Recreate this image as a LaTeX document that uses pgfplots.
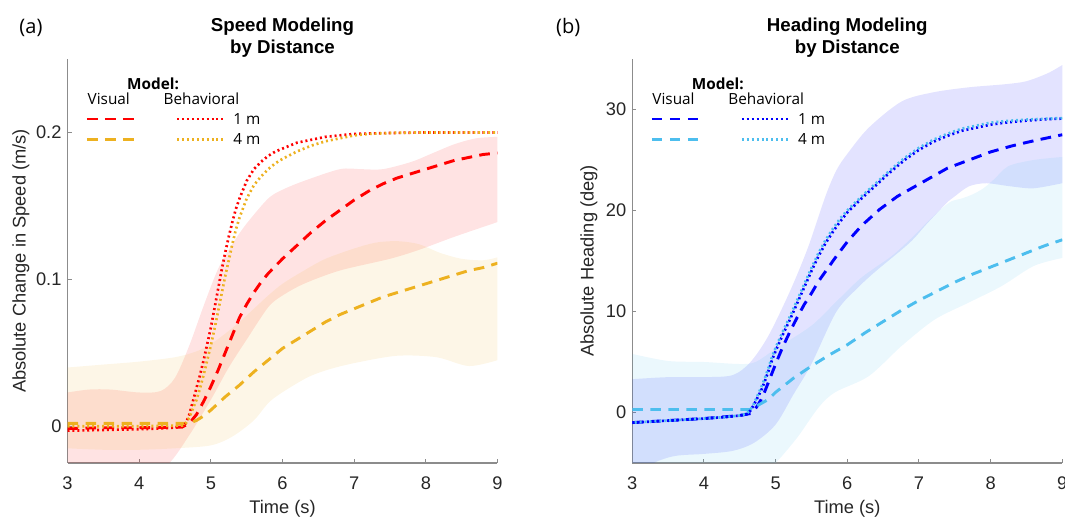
\documentclass[border=0pt]{standalone}
\usepackage{fontspec}
\setmainfont{Liberation Sans}
\newfontfamily\legfont{Open Sans}
\usepackage{pgfplots}
\pgfplotsset{compat=1.18}
\usepgfplotslibrary{fillbetween}

\definecolor{mred}{HTML}{FF0000}
\definecolor{morange}{HTML}{EDB120}
\definecolor{mblue}{HTML}{0000FF}
\definecolor{mcyan}{HTML}{4DBEEE}
\definecolor{axisgray}{HTML}{8C8C8C}
\definecolor{labelgray}{HTML}{262626}

\tikzset{
  vis/.style={line width=2.2pt, dash pattern=on 8pt off 5.5pt},
  beh/.style={line width=2pt, dash pattern=on 1.5pt off 2.2pt},
  band/.style={draw=none, fill opacity=0.11},
  edge/.style={draw=none, smooth},
}

\pgfplotsset{
  panel/.style={
    scale only axis, width=322.5pt, height=303pt,
    xmin=3, xmax=9, xtick={3,4,5,6,7,8,9},
    axis x line*=bottom, axis y line*=left,
    axis line style={draw=axisgray, line width=0.9pt},
    tick style={draw=axisgray, line width=0.8pt},
    tick align=inside, major tick length=3pt,
    clip mode=individual,
    /pgf/number format/assume math mode=true,
    tick label style={font=\fontsize{13.7}{16}\selectfont, text=labelgray},
    xticklabel style={yshift=-7pt},
    yticklabel style={xshift=-1pt},
    title style={font=\bfseries\fontsize{14}{16.5}\selectfont, text=black,
      align=center, at={(axis description cs:0.5,1)}, anchor=center, yshift=9.75pt},
    every axis x label/.style={at={(axis description cs:0.5,-0.1139)}, anchor=center,
      font=\fontsize{13.7}{16}\selectfont, text=labelgray},
  },
}

% legend block: Visual (dashed) and Behavioral (dotted) for 1 m and 4 m
\newcommand{\modellegend}[2]{%
  \node[font=\legfont\bfseries\fontsize{11.5}{13}\selectfont, inner sep=0pt] at (axis description cs:0.199,0.938) {Model:};
  \node[font=\legfont\fontsize{11.5}{13}\selectfont, inner sep=0pt] at (axis description cs:0.096,0.901) {Visual};
  \node[font=\legfont\fontsize{11.5}{13}\selectfont, inner sep=0pt] at (axis description cs:0.3116,0.901) {Behavioral};
  \draw[#1, vis] (axis description cs:0.0453,0.8515) -- (axis description cs:0.1663,0.8515);
  \draw[#1, beh] (axis description cs:0.2547,0.8515) -- (axis description cs:0.3686,0.8515);
  \node[font=\legfont\fontsize{11.5}{13}\selectfont, inner sep=0pt, anchor=west] at (axis description cs:0.3849,0.8515) {1 m};
  \draw[#2, vis] (axis description cs:0.0453,0.8012) -- (axis description cs:0.1663,0.8012);
  \draw[#2, beh] (axis description cs:0.2547,0.8012) -- (axis description cs:0.3686,0.8012);
  \node[font=\legfont\fontsize{11.5}{13}\selectfont, inner sep=0pt, anchor=west] at (axis description cs:0.3849,0.8012) {4 m};
}

\begin{document}
\begin{tikzpicture}

% ---------------- (a) speed ----------------
\begin{axis}[panel, at={(50.625pt,41.25pt)}, anchor=south west,
  ymin=-0.025, ymax=0.25, ytick={0,0.1,0.2},
  title={Speed Modeling\\by Distance},
  xlabel={Time (s)}, ylabel={Absolute Change in Speed (m/s)},
  every axis y label/.style={at={(axis description cs:-0.1082,0.5)}, rotate=90, anchor=center,
    font=\fontsize{13.7}{16}\selectfont, text=labelgray},
]
% 1 m band
\addplot[edge, name path=rU] table {
3.0 0.023
3.3 0.025
3.6 0.025
4.0 0.023
4.3 0.024
4.5 0.033
4.7 0.055
4.9 0.082
5.1 0.107
5.3 0.124
5.5 0.138
5.8 0.155
6.0 0.161
6.3 0.167
6.8 0.175
7.1 0.175
7.4 0.175
7.8 0.180
8.1 0.186
8.4 0.192
8.7 0.196
9.0 0.197
};
\addplot[edge, name path=rL] table {
3.0 -0.045
3.5 -0.042
4.0 -0.036
4.4 -0.026
4.7 -0.006
5.0 0.018
5.25 0.040
5.5 0.059
5.8 0.081
6.0 0.089
6.3 0.097
6.8 0.106
7.5 0.114
7.9 0.120
8.4 0.129
9.0 0.139
};
% 4 m band
\addplot[edge, name path=oU] table {
3.0 0.040
3.5 0.042
4.0 0.044
4.5 0.047
4.8 0.051
5.0 0.056
5.2 0.063
5.4 0.071
5.6 0.080
5.8 0.089
6.0 0.097
6.3 0.106
6.6 0.114
7.0 0.121
7.3 0.125
7.6 0.126
7.9 0.124
8.2 0.118
8.5 0.114
8.8 0.113
9.0 0.115
};
\addplot[edge, name path=oL] table {
3.0 -0.015
3.5 -0.016
4.0 -0.016
4.5 -0.015
5.0 -0.013
5.3 -0.007
5.6 0.004
5.85 0.018
6.3 0.032
6.6 0.038
7.0 0.043
7.6 0.048
8.15 0.047
8.6 0.041
9.0 0.045
};
\addplot[band, fill=mred] fill between[of=rU and rL];
\addplot[band, fill=morange] fill between[of=oU and oL];

% Visual model, 1 m
\addplot[mred, vis] table {
3.0 -0.0015
3.5 -0.001
4.0 -0.001
4.6 -0.0005
4.7 0.002
4.8 0.008
4.9 0.017
5.0 0.027
5.1 0.038
5.2 0.050
5.3 0.062
5.4 0.074
5.5 0.083
5.6 0.091
5.7 0.098
5.8 0.104
5.9 0.109
6.0 0.114
6.2 0.123
6.4 0.132
6.6 0.140
6.8 0.147
7.0 0.154
7.2 0.160
7.4 0.165
7.6 0.169
7.8 0.172
8.0 0.175
8.2 0.178
8.4 0.181
8.6 0.183
8.8 0.185
9.0 0.186
};
% Visual model, 4 m
\addplot[morange, vis] table {
3.0 0.002
4.0 0.002
4.7 0.002
4.8 0.004
4.9 0.007
5.0 0.011
5.2 0.020
5.4 0.028
5.6 0.037
5.8 0.045
6.0 0.053
6.2 0.059
6.4 0.065
6.6 0.071
6.8 0.076
7.0 0.080
7.2 0.084
7.4 0.088
7.6 0.091
7.8 0.094
8.0 0.097
8.2 0.100
8.4 0.103
8.6 0.106
8.8 0.108
9.0 0.111
};
% Behavioral model, 1 m
\addplot[mred, beh] table {
3.0 -0.003
3.5 -0.0025
4.0 -0.002
4.3 -0.0015
4.6 -0.0005
4.65 0.002
4.7 0.008
4.75 0.017
4.8 0.026
4.85 0.035
4.9 0.045
4.95 0.056
5.0 0.067
5.05 0.080
5.1 0.093
5.15 0.106
5.2 0.118
5.25 0.129
5.3 0.139
5.35 0.148
5.4 0.155
5.5 0.167
5.6 0.175
5.7 0.180
5.8 0.184
5.9 0.187
6.0 0.189
6.2 0.193
6.4 0.195
6.6 0.197
6.8 0.198
7.0 0.199
7.4 0.1995
8.0 0.2
9.0 0.2
};
% Behavioral model, 4 m
\addplot[morange, beh] table {
3.0 0.0
4.0 0.0
4.6 0.0005
4.65 0.002
4.7 0.006
4.75 0.012
4.8 0.018
4.85 0.026
4.9 0.035
4.95 0.045
5.0 0.055
5.05 0.066
5.1 0.078
5.15 0.090
5.2 0.102
5.25 0.113
5.3 0.124
5.35 0.134
5.4 0.142
5.5 0.155
5.6 0.164
5.7 0.170
5.8 0.175
5.9 0.179
6.0 0.182
6.2 0.187
6.4 0.191
6.6 0.194
6.8 0.196
7.0 0.198
7.2 0.199
7.6 0.1998
8.0 0.2
9.0 0.2
};

\modellegend{mred}{morange}
\node[font=\legfont\fontsize{15}{18}\selectfont, text=black] at (axis description cs:-0.085,1.077) {(a)};
\end{axis}

% ---------------- (b) heading ----------------
\begin{axis}[panel, at={(474.2pt,41.25pt)}, anchor=south west,
  ymin=-5, ymax=35, ytick={0,10,20,30},
  title={Heading Modeling\\by Distance},
  xlabel={Time (s)}, ylabel={Absolute Heading (deg)},
  every axis y label/.style={at={(axis description cs:-0.1008,0.5)}, rotate=90, anchor=center,
    font=\fontsize{13.7}{16}\selectfont, text=labelgray},
]
% 1 m band
\addplot[edge, name path=bU] table {
3.0 3.3
3.5 3.5
4.0 3.5
4.4 3.7
4.65 5.0
4.9 7.6
5.2 12.0
5.45 16.3
5.7 21.5
5.85 24.0
6.0 25.6
6.3 28.2
6.76 30.8
7.2 31.7
7.7 32.2
8.2 32.5
8.5 32.8
8.8 33.6
9.0 34.4
};
\addplot[edge, name path=bL] table {
3.0 -6.5
3.3 -5.0
3.6 -4.3
4.0 -4.1
4.4 -3.8
4.7 -3.0
5.0 -1.2
5.25 1.8
5.5 4.8
5.85 10.0
6.17 12.5
6.4 14.0
6.87 16.8
7.1 18.6
7.38 20.7
7.5 21.4
7.7 22.4
7.94 22.7
8.27 22.4
8.6 22.2
9.0 22.7
};
% 4 m band
\addplot[edge, name path=cU] table {
3.0 5.8
3.5 5.1
4.0 5.0
4.5 4.8
4.72 5.0
5.0 6.3
5.5 8.6
5.85 11.0
6.17 13.2
6.4 14.4
6.64 15.6
6.9 17.3
7.11 18.8
7.3 20.1
7.45 20.9
7.6 21.2
7.75 21.6
7.9 22.2
8.05 23.1
8.25 24.4
8.6 25.0
9.0 25.3
};
\addplot[edge, name path=cL] table {
3.0 -7.0
4.0 -7.0
4.5 -6.5
4.9 -5.3
5.0 -5.0
5.3 -2.5
5.6 0.5
5.83 2.0
6.3 3.6
6.76 6.6
7.22 9.2
7.7 10.9
8.15 12.5
8.6 14.5
9.0 15.3
};
\addplot[band, fill=mblue] fill between[of=bU and bL];
\addplot[band, fill=mcyan] fill between[of=cU and cL];

% Visual model, 1 m
\addplot[mblue, vis] table {
3.0 -1.0
3.5 -0.8
4.0 -0.6
4.5 -0.3
4.65 -0.1
4.7 0.2
4.75 0.7
4.8 1.3
4.85 2.1
4.9 3.0
5.0 4.8
5.1 6.5
5.2 8.0
5.3 9.4
5.4 10.7
5.5 11.8
5.6 13.0
5.7 14.0
5.85 15.5
6.0 16.9
6.2 18.5
6.45 20.1
6.7 21.4
6.9 22.2
7.2 23.4
7.4 24.2
7.7 25.0
8.0 25.8
8.3 26.4
8.6 26.9
9.0 27.5
};
% Visual model, 4 m
\addplot[mcyan, vis] table {
3.0 0.3
4.0 0.3
4.65 0.3
4.75 0.7
4.9 1.3
5.0 2.0
5.25 3.4
5.5 4.6
5.75 5.7
6.0 6.7
6.25 7.9
6.5 9.0
6.75 10.1
7.0 11.1
7.25 12.0
7.5 12.9
7.75 13.7
8.0 14.4
8.25 15.1
8.5 15.8
8.75 16.5
9.0 17.1
};
% Behavioral model, 1 m
\addplot[mblue, beh] table {
3.0 -1.0
3.5 -0.8
4.0 -0.6
4.3 -0.45
4.5 -0.3
4.6 -0.15
4.65 0.2
4.7 0.8
4.75 1.5
4.8 2.2
4.85 3.1
4.9 4.1
4.95 5.2
5.0 6.1
5.1 7.7
5.2 9.2
5.3 10.8
5.4 12.4
5.5 14.0
5.6 15.5
5.7 16.8
5.8 17.9
5.9 18.9
6.0 19.8
6.2 21.2
6.4 22.5
6.6 23.8
6.8 25.0
7.0 26.0
7.2 26.8
7.4 27.4
7.6 27.9
7.8 28.2
8.0 28.5
8.2 28.7
8.5 28.9
8.8 29.05
9.0 29.1
};
% Behavioral model, 4 m
\addplot[mcyan, beh, dash phase=1.85pt] table {
3.0 -1.0
3.5 -0.8
4.0 -0.6
4.3 -0.45
4.5 -0.3
4.6 -0.1
4.65 0.3
4.7 0.9
4.75 1.7
4.8 2.5
4.85 3.4
4.9 4.4
4.95 5.5
5.0 6.4
5.1 8.0
5.2 9.5
5.3 11.1
5.4 12.7
5.5 14.3
5.6 15.8
5.7 17.1
5.8 18.2
5.9 19.2
6.0 20.0
6.2 21.4
6.4 22.7
6.6 24.0
6.8 25.2
7.0 26.2
7.2 27.0
7.4 27.6
7.6 28.1
7.8 28.4
8.0 28.7
8.2 28.85
8.5 29.0
8.8 29.1
9.0 29.15
};

\modellegend{mblue}{mcyan}
\node[font=\legfont\fontsize{15}{18}\selectfont, text=black] at (axis description cs:-0.149,1.077) {(b)};
\end{axis}

% fix the page to the full figure area
\pgfresetboundingbox
\useasboundingbox (0,0) rectangle (798.75pt,388.5pt);
\end{tikzpicture}
\end{document}
